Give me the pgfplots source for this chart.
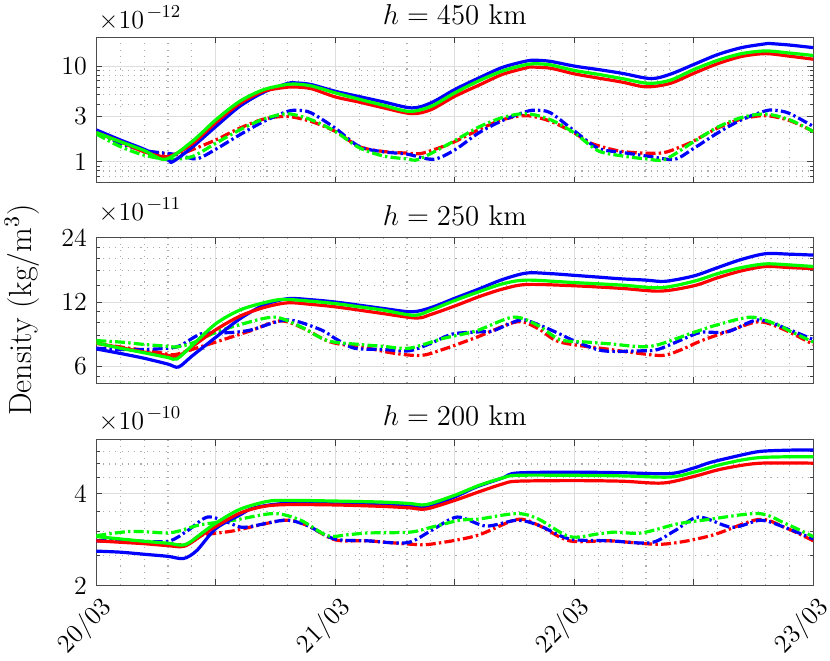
\documentclass[border=0pt]{standalone}
\usepackage{pgfplots}
\pgfplotsset{compat=1.18}
\newcommand{\tf}{\fontsize{13}{15.6}\selectfont}
\newcommand{\expo}[1]{\tf\texttimes10\raisebox{0.42em}{\fontsize{9.1}{10}\selectfont\,−#1}}
\pgfplotsset{
  dpanel/.style={
    scale only axis, width=358.5pt, height=72.8pt,
    xmin=0, xmax=3,
    /pgf/number format/assume math mode=true,
    xtick={0,1,2,3}, xticklabels={},
    extra x ticks={0.5,1.5,2.5}, extra x tick labels={},
    extra x tick style={grid=major},
    minor xtick={0.1,0.2,0.3,0.4,0.6,0.7,0.8,0.9,1.1,1.2,1.3,1.4,1.6,1.7,1.8,1.9,2.1,2.2,2.3,2.4,2.6,2.7,2.8,2.9},
    grid=both,
    major grid style={black!13, line width=0.5pt},
    minor grid style={black!32, line width=0.55pt, dash pattern=on 0.55pt off 2.6pt},
    axis line style={black!70, line width=0.5pt},
    major tick style={black!75, line width=0.5pt},
    minor tick style={black!75, line width=0.5pt},
    minor x tick style={draw=none},
    major tick length=3pt, minor tick length=1.8pt,
    tick align=inside,
    clip mode=individual,
    tick label style={font=\tf},
    yticklabel style={font=\tf, inner sep=0pt, xshift=-4.5pt},
  },
  sline/.style={line width=1.6pt, smooth, tension=0.5},
  dline/.style={line width=1.6pt, smooth, tension=0.5, dash pattern=on 5pt off 1.6pt on 1.2pt off 1.6pt},
}
\begin{document}
\begin{tikzpicture}
\path[use as bounding box] (0,0) rectangle (415pt,-330pt);
\node[rotate=90, font=\fontsize{16}{19}\selectfont] at (11pt,-155pt) {Density (kg/m$^3$)};

% ---------------- h = 450 km
\begin{semilogyaxis}[dpanel, at={(48.15pt,-18.65pt)}, anchor=north west,
  ymin=0.6, ymax=20, ytick={1,3,10}, yticklabels={{\tf 1},{\tf 3},{\tf 10}},
  minor ytick={0.6,0.7,0.8,0.9,2,4,5,6,7,8,9,20}]
\addplot[dline, red] coordinates {(0,2.02)(0.1,1.6)(0.2,1.31)(0.3,1.19)(0.35,1.2)(0.4,1.33)(0.5,1.69)(0.6,2.24)(0.7,2.79)(0.8,2.97)(0.9,2.63)(1.0,2.07)(1.1,1.44)(1.2,1.28)(1.3,1.23)(1.36,1.22)(1.45,1.44)(1.5,1.62)(1.6,2.16)(1.7,2.75)(1.8,3.03)(1.9,2.65)(2.0,2.0)(2.07,1.56)(2.2,1.28)(2.36,1.23)(2.45,1.45)(2.5,1.65)(2.6,2.25)(2.7,2.8)(2.8,3.03)(2.9,2.7)(3.0,2.07)};
\addplot[dline, blue] coordinates {(0,2.07)(0.1,1.56)(0.2,1.31)(0.3,1.22)(0.35,1.17)(0.42,1.07)(0.5,1.35)(0.6,1.91)(0.7,2.63)(0.8,3.36)(0.85,3.44)(0.9,3.23)(1.0,2.24)(1.1,1.44)(1.2,1.27)(1.3,1.2)(1.41,1.06)(1.5,1.33)(1.6,2.0)(1.7,2.7)(1.8,3.35)(1.84,3.45)(1.9,3.25)(2.0,2.1)(2.1,1.38)(2.2,1.25)(2.32,1.13)(2.42,1.06)(2.5,1.38)(2.6,2.0)(2.7,2.75)(2.8,3.4)(2.84,3.45)(2.9,3.2)(3.0,2.34)};
\addplot[dline, green] coordinates {(0,1.95)(0.1,1.44)(0.2,1.17)(0.3,1.06)(0.4,1.13)(0.5,1.56)(0.6,2.15)(0.7,2.79)(0.8,3.17)(0.9,2.74)(1.0,2.07)(1.1,1.4)(1.2,1.15)(1.3,1.07)(1.35,1.06)(1.48,1.56)(1.6,2.3)(1.7,2.9)(1.8,3.18)(1.9,2.75)(2.0,2.0)(2.1,1.3)(2.2,1.15)(2.3,1.07)(2.38,1.06)(2.5,1.62)(2.6,2.3)(2.7,2.9)(2.8,3.15)(2.9,2.75)(3.0,2.07)};
\addplot[sline, blue] coordinates {(0,2.15)(0.1,1.69)(0.2,1.35)(0.3,1.04)(0.32,1.0)(0.4,1.41)(0.5,2.33)(0.6,3.79)(0.7,5.32)(0.8,6.58)(0.84,6.66)(0.9,6.4)(1.0,5.45)(1.1,4.8)(1.2,4.23)(1.32,3.65)(1.4,4.12)(1.5,5.69)(1.6,7.5)(1.7,9.7)(1.8,11.3)(1.84,11.5)(1.9,11.2)(2.0,10.0)(2.1,9.2)(2.2,8.4)(2.32,7.4)(2.4,8.2)(2.5,10.4)(2.6,13.2)(2.7,15.6)(2.8,17.1)(2.82,17.2)(2.9,16.6)(3.0,15.6)};
\addplot[sline, red] coordinates {(0,2.02)(0.1,1.62)(0.2,1.27)(0.3,1.13)(0.4,1.53)(0.5,2.57)(0.6,4.05)(0.7,5.45)(0.8,6.02)(0.83,6.05)(0.9,5.8)(1.0,4.76)(1.1,4.2)(1.2,3.67)(1.32,3.18)(1.4,3.5)(1.5,4.83)(1.6,6.3)(1.7,8.2)(1.8,9.6)(1.82,9.77)(1.9,9.5)(2.0,8.3)(2.1,7.5)(2.2,6.8)(2.3,6.07)(2.4,6.58)(2.5,8.4)(2.6,10.6)(2.7,12.6)(2.8,13.5)(2.9,12.7)(3.0,11.8)};
\addplot[sline, green] coordinates {(0,2.02)(0.1,1.62)(0.2,1.31)(0.29,1.06)(0.4,1.62)(0.5,2.74)(0.6,4.28)(0.7,5.67)(0.8,6.45)(0.83,6.5)(0.9,6.2)(1.0,5.24)(1.1,4.5)(1.2,3.9)(1.31,3.36)(1.4,3.79)(1.5,5.25)(1.6,7.0)(1.7,8.9)(1.8,10.4)(1.83,10.6)(1.9,10.3)(2.0,9.0)(2.1,8.2)(2.2,7.4)(2.31,6.6)(2.4,7.1)(2.5,9.2)(2.6,11.5)(2.7,13.5)(2.8,14.4)(2.9,13.7)(3.0,12.9)};
\node[anchor=base west, yshift=4.5pt, inner sep=1pt] at (rel axis cs:0,1) {\expo{12}};
\node[anchor=base, font=\fontsize{14.3}{17}\selectfont, yshift=6.6pt] at (rel axis cs:0.5,1) {$h = 450$ km};
\end{semilogyaxis}

% ---------------- h = 250 km
\begin{semilogyaxis}[dpanel, at={(48.15pt,-118.85pt)}, anchor=north west,
  ymin=5, ymax=24, ytick={6,12,24}, yticklabels={{\tf 6},{\tf 12},{\tf 24}},
  minor ytick={5.4,7.2,8.4,9.6,10.8,14.4,16.8,19.2,21.6}]
\addplot[dline, red] coordinates {(0,7.7)(0.1,7.4)(0.254,7.0)(0.324,6.8)(0.4,7.2)(0.5,7.8)(0.645,8.8)(0.77,9.8)(0.87,9.0)(0.98,7.8)(1.135,7.3)(1.25,6.9)(1.36,6.75)(1.45,7.2)(1.59,8.2)(1.76,9.7)(1.85,9.0)(1.94,7.8)(2.15,7.2)(2.25,6.95)(2.37,6.75)(2.45,7.2)(2.53,7.9)(2.65,8.8)(2.77,9.7)(2.87,9.0)(3.0,7.6)};
\addplot[dline, blue] coordinates {(0,7.3)(0.1,7.2)(0.2,7.2)(0.3,7.3)(0.35,7.5)(0.435,8.5)(0.5,8.6)(0.575,8.66)(0.65,8.9)(0.8,9.9)(0.94,8.9)(1.0,8.1)(1.08,7.3)(1.2,7.2)(1.31,7.1)(1.4,7.7)(1.49,8.5)(1.6,8.7)(1.66,8.8)(1.775,9.9)(1.85,9.4)(1.94,8.5)(2.0,7.9)(2.12,7.1)(2.29,7.1)(2.35,7.2)(2.45,8.0)(2.53,8.66)(2.64,8.7)(2.77,9.9)(2.9,8.9)(3.0,8.0)};
\addplot[dline, green] coordinates {(0,7.92)(0.1,7.8)(0.2,7.6)(0.3,7.45)(0.337,7.4)(0.4,7.7)(0.5,8.66)(0.6,9.4)(0.745,10.2)(0.855,9.2)(0.967,7.92)(1.1,7.6)(1.2,7.45)(1.31,7.3)(1.45,8.1)(1.59,8.8)(1.745,10.2)(1.85,9.3)(1.94,8.0)(2.05,7.8)(2.15,7.65)(2.32,7.45)(2.5,8.66)(2.6,9.4)(2.74,10.2)(2.85,9.4)(2.9,8.8)(3.0,7.8)};
\addplot[sline, blue] coordinates {(0,7.24)(0.1,6.9)(0.2,6.55)(0.3,6.15)(0.344,5.96)(0.4,6.7)(0.5,8.21)(0.6,10.0)(0.7,11.6)(0.8,12.44)(0.9,12.3)(1.0,12.0)(1.1,11.6)(1.2,11.2)(1.32,10.8)(1.4,11.3)(1.5,12.5)(1.6,13.8)(1.7,15.3)(1.8,16.4)(1.9,16.3)(2.0,16.0)(2.1,15.7)(2.2,15.4)(2.3,15.2)(2.38,15.0)(2.5,15.9)(2.6,17.4)(2.7,19.0)(2.8,20.2)(2.9,20.1)(3.0,19.9)};
\addplot[sline, red] coordinates {(0,7.7)(0.1,7.35)(0.2,7.0)(0.3,6.75)(0.34,6.67)(0.4,7.4)(0.5,8.9)(0.6,10.3)(0.7,11.3)(0.8,11.9)(0.9,11.7)(1.0,11.4)(1.1,11.0)(1.2,10.6)(1.34,10.1)(1.4,10.5)(1.5,11.5)(1.6,12.7)(1.7,13.8)(1.8,14.5)(2.0,14.3)(2.2,13.9)(2.36,13.5)(2.5,14.3)(2.6,15.6)(2.7,16.8)(2.8,17.6)(2.9,17.4)(3.0,17.2)};
\addplot[sline, green] coordinates {(0,7.73)(0.1,7.3)(0.2,6.95)(0.3,6.6)(0.337,6.5)(0.4,7.5)(0.5,9.5)(0.6,11.0)(0.7,11.9)(0.78,12.35)(0.9,12.1)(1.0,11.8)(1.1,11.4)(1.2,11.0)(1.33,10.4)(1.4,11.0)(1.5,12.2)(1.6,13.4)(1.7,14.6)(1.8,15.2)(2.0,14.8)(2.2,14.4)(2.36,14.0)(2.5,15.0)(2.6,16.3)(2.7,17.4)(2.8,18.1)(2.9,17.9)(3.0,17.6)};
\node[anchor=base west, yshift=8.5pt, inner sep=1pt] at (rel axis cs:0,1) {\expo{11}};
\node[anchor=base, font=\fontsize{14.3}{17}\selectfont, yshift=5.9pt] at (rel axis cs:0.5,1) {$h = 250$ km};
\end{semilogyaxis}

% ---------------- h = 200 km
\begin{semilogyaxis}[dpanel, at={(48.15pt,-219.9pt)}, anchor=north west,
  ymin=2, ymax=6, ytick={2,4}, yticklabels={{\tf 2},{\tf 4}},
  minor ytick={2.5,3,3.5,4.5,5,5.5},
  xticklabels={{\tf 20/03},{\tf 21/03},{\tf 22/03},{\tf 23/03}},
  xticklabel style={font=\tf, rotate=45, anchor=north east, inner sep=0pt, xshift=-2.5pt, yshift=-4pt}]
\addplot[dline, red] coordinates {(0,2.8)(0.2,2.77)(0.37,2.72)(0.435,2.91)(0.575,3.02)(0.786,3.27)(0.88,3.15)(1.0,2.82)(1.135,2.8)(1.313,2.73)(1.4,2.73)(1.59,2.91)(1.76,3.29)(1.85,3.15)(1.98,2.8)(2.15,2.8)(2.37,2.73)(2.57,2.91)(2.77,3.29)(2.88,3.1)(3.0,2.8)};
\addplot[dline, blue] coordinates {(0,2.8)(0.15,2.8)(0.3,2.79)(0.381,3.02)(0.465,3.35)(0.55,3.22)(0.62,3.1)(0.786,3.27)(0.88,3.15)(0.996,2.84)(1.135,2.8)(1.30,2.76)(1.40,3.02)(1.51,3.35)(1.63,3.13)(1.76,3.27)(1.85,3.15)(1.98,2.84)(2.15,2.8)(2.32,2.76)(2.42,3.02)(2.52,3.35)(2.66,3.1)(2.78,3.27)(2.88,3.1)(3.0,2.84)};
\addplot[dline, green] coordinates {(0,2.91)(0.127,3.0)(0.2,3.0)(0.295,2.97)(0.35,3.02)(0.435,3.16)(0.575,3.27)(0.743,3.44)(0.855,3.27)(0.967,2.91)(1.05,2.93)(1.135,2.97)(1.313,2.99)(1.4,3.1)(1.52,3.27)(1.6,3.3)(1.76,3.44)(1.85,3.3)(1.98,2.89)(2.1,2.95)(2.17,2.99)(2.28,2.97)(2.43,3.18)(2.55,3.28)(2.77,3.44)(2.88,3.2)(3.0,2.89)};
\addplot[sline, blue] coordinates {(0,2.59)(0.1,2.57)(0.2,2.53)(0.3,2.49)(0.365,2.45)(0.42,2.6)(0.5,3.07)(0.6,3.4)(0.66,3.59)(0.786,3.71)(1.0,3.7)(1.2,3.67)(1.313,3.65)(1.38,3.6)(1.5,3.9)(1.59,4.2)(1.7,4.5)(1.76,4.67)(2.0,4.7)(2.2,4.68)(2.4,4.65)(2.5,4.85)(2.57,5.06)(2.7,5.35)(2.78,5.5)(2.9,5.55)(3.0,5.56)};
\addplot[sline, red] coordinates {(0,2.8)(0.1,2.77)(0.2,2.74)(0.3,2.7)(0.37,2.69)(0.45,2.95)(0.5,3.12)(0.6,3.45)(0.7,3.63)(0.8,3.68)(1.0,3.67)(1.2,3.63)(1.313,3.59)(1.38,3.56)(1.5,3.8)(1.6,4.05)(1.7,4.3)(1.76,4.39)(2.0,4.41)(2.2,4.39)(2.37,4.33)(2.5,4.55)(2.6,4.78)(2.7,4.95)(2.78,5.03)(2.9,5.04)(3.0,5.03)};
\addplot[sline, green] coordinates {(0,2.89)(0.1,2.84)(0.2,2.79)(0.3,2.75)(0.372,2.72)(0.45,3.0)(0.5,3.2)(0.6,3.55)(0.715,3.77)(0.8,3.8)(1.0,3.78)(1.2,3.75)(1.313,3.71)(1.38,3.68)(1.5,3.95)(1.6,4.25)(1.7,4.5)(1.76,4.59)(2.0,4.59)(2.2,4.57)(2.4,4.53)(2.5,4.7)(2.6,4.95)(2.7,5.15)(2.78,5.25)(2.9,5.28)(3.0,5.28)};
\node[anchor=base west, yshift=5pt, inner sep=1pt] at (rel axis cs:0,1) {\expo{10}};
\node[anchor=base, font=\fontsize{14.3}{17}\selectfont, yshift=7pt] at (rel axis cs:0.5,1) {$h = 200$ km};
\end{semilogyaxis}
\end{tikzpicture}
\end{document}
